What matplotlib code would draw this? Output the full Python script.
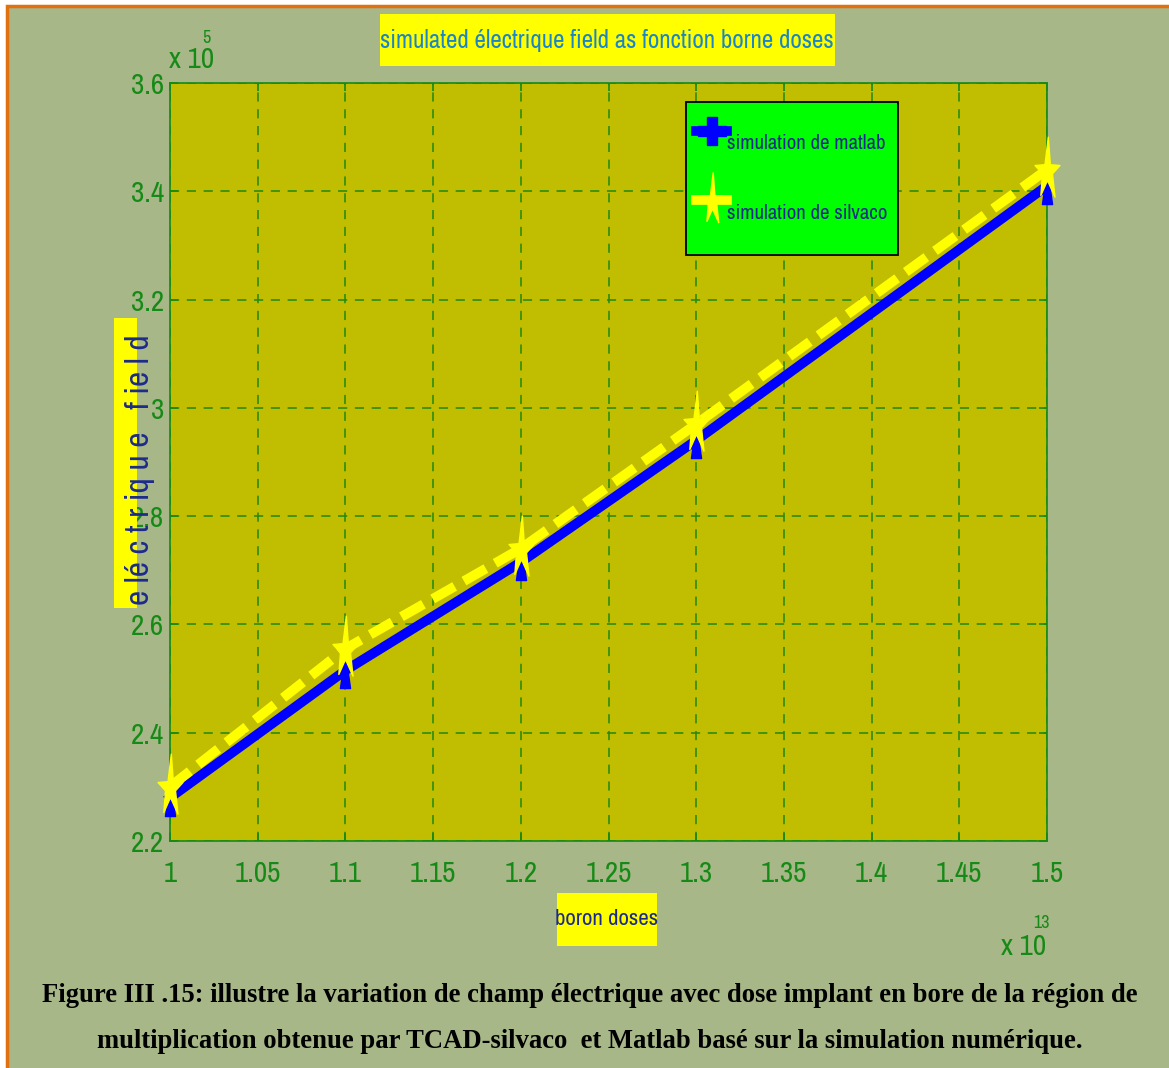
import matplotlib
matplotlib.use("Agg")
import matplotlib.pyplot as plt
from matplotlib import font_manager as fm
from matplotlib.patches import Rectangle
from matplotlib.path import Path
from matplotlib.lines import Line2D

# Boron dose (in units of 1e13) and electric field (in units of 1e5)
doses = [1.0, 1.1, 1.2, 1.3, 1.5]
field_matlab = [2.28, 2.515, 2.715, 2.94, 3.41]
field_silvaco = [2.30, 2.555, 2.74, 2.97, 3.44]
x_ticks = [1.0, 1.05, 1.1, 1.15, 1.2, 1.25, 1.3, 1.35, 1.4, 1.45, 1.5]
y_ticks = [2.2, 2.4, 2.6, 2.8, 3.0, 3.2, 3.4, 3.6]
x_exponent = "13"
y_exponent = "5"

# pick a narrow sans-serif face when one is available
_names = {f.name for f in fm.fontManager.ttflist}
_narrow = [n for n in ("Liberation Sans Narrow", "Arial Narrow", "Archivo Narrow",
                       "PT Sans Narrow", "Roboto Condensed", "Pragati Narrow",
                       "Open Sans Condensed") if n in _names]
NARROW = (_narrow[:1] or []) + ["DejaVu Sans"]
SERIF = ["Liberation Serif", "DejaVu Serif"]
BG = "#a7b787"
AX_BG = "#c1bd00"
GREEN = "#168a16"
NAVY = "#1c2a8c"
YELLOW = "#ffff00"

W, H = 1169, 1068
fig = plt.figure(figsize=(W / 100, H / 100), dpi=100, facecolor="white")

def fx(px):
    return px / W

def fy(py):
    return 1 - py / H

# page panel with orange frame on top and left
fig.patches.append(Rectangle((fx(7), fy(H + 10)), 1.2, (H + 10 - 6) / H,
                             transform=fig.transFigure, facecolor=BG,
                             edgecolor="#e07010", linewidth=2.5, zorder=-5))

ax = fig.add_axes([fx(170), fy(841), fx(1047) - fx(170), fy(83) - fy(841)])
ax.set_facecolor(AX_BG)
for s in ax.spines.values():
    s.set_color(GREEN)
    s.set_linewidth(1.2)

# elongated markers
tri = Path([(-0.28, -1.0), (0.28, -1.0), (0.0, 1.0), (-0.28, -1.0)],
           [Path.MOVETO, Path.LINETO, Path.LINETO, Path.CLOSEPOLY])
star_pts = [(0.05, 2.0), (0.17, 0.35), (0.75, 0.3), (0.3, -0.2), (0.45, -1.6),
            (0.0, -0.6), (-0.4, -1.5), (-0.3, -0.2), (-0.75, 0.3), (-0.15, 0.35),
            (0.05, 2.0)]
star = Path(star_pts, [Path.MOVETO] + [Path.LINETO] * 9 + [Path.CLOSEPOLY])

ax.plot(doses, field_matlab, color="#0000ff", linewidth=7, marker=tri,
        markersize=26, markerfacecolor="#0000ff", markeredgecolor="#0000ff",
        solid_joinstyle="miter", zorder=3, clip_on=False)
ax.plot(doses, field_silvaco, color=YELLOW, linewidth=7, linestyle=(0, (2.6, 1.1)),
        marker=star, markersize=48, markerfacecolor=YELLOW, markeredgecolor=YELLOW,
        zorder=4, clip_on=False)

ax.set_xlim(1.0, 1.5)
ax.set_ylim(2.2, 3.6)
ax.set_xticks(x_ticks)
ax.set_yticks(y_ticks)
ax.set_xticklabels([f"{v:g}" for v in x_ticks])
ax.set_yticklabels([f"{v:g}" for v in y_ticks])
ax.tick_params(direction="in", colors=GREEN, length=6, width=1.2,
               top=True, right=True, labelsize=21)
ax.tick_params(axis="x", pad=14)
ax.tick_params(axis="y", pad=4)
for lab in ax.get_xticklabels() + ax.get_yticklabels():
    lab.set_family(NARROW)
    lab.set_color(GREEN)
ax.grid(True, color="#1f8a10", linestyle=(0, (6, 5)), linewidth=1.1)
ax.set_axisbelow(True)

# exponent labels
fig.text(fx(169), fy(68), "x 10", family=NARROW, fontsize=21, color=GREEN,
         ha="left", va="baseline")
fig.text(fx(202), fy(43), y_exponent, family=NARROW, fontsize=13, color=GREEN,
         ha="left", va="baseline")
fig.text(fx(1001), fy(955), "x 10", family=NARROW, fontsize=21, color=GREEN,
         ha="left", va="baseline")
fig.text(fx(1033), fy(928), x_exponent, family=NARROW, fontsize=13, color=GREEN,
         ha="left", va="baseline")

# title
fig.patches.append(Rectangle((fx(380), fy(66)), fx(835) - fx(380), fy(14) - fy(66),
                             transform=fig.transFigure, facecolor=YELLOW,
                             edgecolor="none", zorder=1))
fig.text(fx(607), fy(40), "simulated électrique field as fonction borne doses",
         family=NARROW, fontsize=18, color="#1a86c8", fontweight="bold",
         ha="center", va="center", zorder=2)

# x label
fig.patches.append(Rectangle((fx(557), fy(946)), fx(657) - fx(557), fy(893) - fy(946),
                             transform=fig.transFigure, facecolor=YELLOW,
                             edgecolor="none", zorder=1))
fig.text(fx(607), fy(919), "boron doses", family=NARROW, fontsize=16.5, color=NAVY,
         fontweight="bold", ha="center", va="center", zorder=2)

# y label
fig.patches.append(Rectangle((fx(114), fy(608)), fx(137) - fx(114), fy(318) - fy(608),
                             transform=fig.transFigure, facecolor=YELLOW,
                             edgecolor="none", zorder=1))
fig.text(fx(140), fy(470), "e lé c t r iq u e   f ie l d", family=NARROW,
         fontsize=24, color=NAVY, rotation=90, ha="center", va="center", zorder=2)

# legend
handles = [
    Line2D([], [], color="#0000ff", linewidth=7, marker="P", markersize=20,
           markerfacecolor="#0000ff", markeredgecolor="#0000ff"),
    Line2D([], [], color=YELLOW, linewidth=7, marker=star, markersize=40,
           markerfacecolor=YELLOW, markeredgecolor=YELLOW),
]
leg = ax.legend(handles, ["simulation de matlab", "simulation de silvaco"],
                loc="upper left", bbox_to_anchor=(0.588, 0.975),
                prop={"family": NARROW, "size": 15}, labelcolor=NAVY,
                facecolor="#00ff00", edgecolor="black", framealpha=1,
                fancybox=False, handlelength=1.5, handleheight=4.2,
                handletextpad=0.0, borderpad=0.5, labelspacing=0.38,
                borderaxespad=0)
leg.get_frame().set_linewidth(1.3)

# caption
cap1 = "Figure III .15: illustre la variation de champ électrique avec dose implant en bore de la région de"
cap2 = "multiplication obtenue par TCAD-silvaco  et Matlab basé sur la simulation numérique."
fig.text(fx(590), fy(996), cap1, family=SERIF, fontsize=19.2, fontweight="bold",
         color="black", ha="center", va="center")
fig.text(fx(590), fy(1042), cap2, family=SERIF, fontsize=19.2, fontweight="bold",
         color="black", ha="center", va="center")

fig.savefig("out.png", dpi=100, facecolor=fig.get_facecolor())
